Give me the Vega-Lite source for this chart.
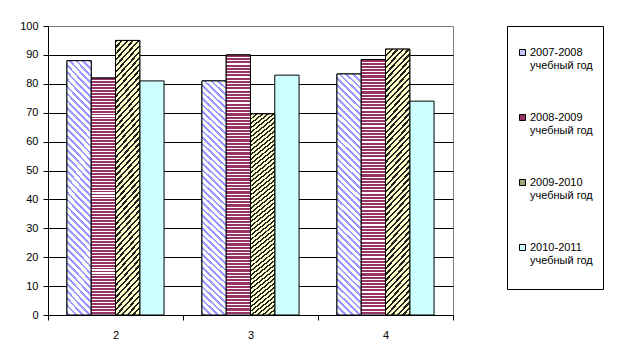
{
  "$schema": "https://vega.github.io/schema/vega-lite/v6.json",
  "width": 405,
  "height": 289,
  "autosize": {"type": "none"},
  "padding": {"left": 48, "top": 26, "right": 168, "bottom": 45},
  "background": "white",
  "config": {"view": {"stroke": "#808080", "strokeWidth": 1}, "font": "Liberation Sans"},
  "data": {"values": [
    {"grade": "2", "series": "2007-2008 учебный год", "value": 88},
    {"grade": "2", "series": "2008-2009 учебный год", "value": 82},
    {"grade": "2", "series": "2009-2010 учебный год", "value": 95},
    {"grade": "2", "series": "2010-2011 учебный год", "value": 81},
    {"grade": "3", "series": "2007-2008 учебный год", "value": 81},
    {"grade": "3", "series": "2008-2009 учебный год", "value": 90},
    {"grade": "3", "series": "2009-2010 учебный год", "value": 69.6},
    {"grade": "3", "series": "2010-2011 учебный год", "value": 83},
    {"grade": "4", "series": "2007-2008 учебный год", "value": 83.4},
    {"grade": "4", "series": "2008-2009 учебный год", "value": 88.4},
    {"grade": "4", "series": "2009-2010 учебный год", "value": 92},
    {"grade": "4", "series": "2010-2011 учебный год", "value": 74}
  ]},
  "encoding": {
    "x": {"field": "grade", "type": "nominal",
      "scale": {"paddingInner": 0, "paddingOuter": 0},
      "axis": {"title": null, "labelAngle": 0, "tickBand": "extent", "tickSize": 5, "tickColor": "black", "domainColor": "black", "labelColor": "black", "labelFontSize": 11, "labelPadding": 9, "labelFont": "Liberation Sans", "grid": false}},
    "xOffset": {"field": "series", "type": "nominal",
      "scale": {"domain": ["2007-2008 учебный год", "2008-2009 учебный год", "2009-2010 учебный год", "2010-2011 учебный год"], "paddingInner": 0, "paddingOuter": 0.78}},
    "y": {"field": "value", "type": "quantitative",
      "scale": {"domain": [0, 100], "nice": false},
      "axis": {"title": null, "values": [0, 10, 20, 30, 40, 50, 60, 70, 80, 90, 100], "grid": true,
        "gridColor": {"condition": {"test": "datum.value === 100", "value": "#808080"}, "value": "black"},
        "domainColor": "black", "tickColor": "black", "tickSize": 5, "labelColor": "black", "labelFontSize": 11, "labelPadding": 5, "labelFont": "Liberation Sans"}}
  },
  "layer": [
    {
      "mark": {"type": "bar", "stroke": "black", "strokeWidth": 1},
      "encoding": {
        "color": {"field": "series", "type": "nominal",
          "scale": {
            "domain": ["2007-2008 учебный год", "2008-2009 учебный год", "2009-2010 учебный год", "2010-2011 учебный год"],
            "range": ["#c4c4ff", "#993366", "#a6a67a", "#ccffff"]
          },
          "legend": {"title": " ", "titleFontSize": 4, "titlePadding": 7, "orient": "right", "offset": 54, "padding": 10, "strokeColor": "black", "rowPadding": 27,
            "symbolType": "square", "symbolSize": 36, "symbolStrokeColor": "black", "symbolStrokeWidth": 1, "symbolOpacity": 1,
            "labelFont": "Liberation Sans", "labelFontSize": 11, "labelColor": "black", "labelOffset": 2,
            "labelExpr": "[slice(datum.label, 0, 9), slice(datum.label, 10), '']"}
        }
      }
    },
    {
      "transform": [{"filter": "datum.series === '2007-2008 учебный год'"}],
      "mark": {"type": "bar", "stroke": "black", "strokeWidth": 1,
        "fill": {"gradient": "linear", "x1": 1, "y1": 0, "x2": 0.891, "y2": 1.1, "stops": [
            {"offset":0,"color":"#99f"},{"offset":0.01,"color":"#99f"},{"offset":0.01,"color":"#fff"},{"offset":0.025,"color":"#fff"},
            {"offset":0.025,"color":"#99f"},{"offset":0.035,"color":"#99f"},{"offset":0.035,"color":"#fff"},{"offset":0.05,"color":"#fff"},
            {"offset":0.05,"color":"#99f"},{"offset":0.06,"color":"#99f"},{"offset":0.06,"color":"#fff"},{"offset":0.075,"color":"#fff"},
            {"offset":0.075,"color":"#99f"},{"offset":0.085,"color":"#99f"},{"offset":0.085,"color":"#fff"},{"offset":0.1,"color":"#fff"},
            {"offset":0.1,"color":"#99f"},{"offset":0.11,"color":"#99f"},{"offset":0.11,"color":"#fff"},{"offset":0.125,"color":"#fff"},
            {"offset":0.125,"color":"#99f"},{"offset":0.135,"color":"#99f"},{"offset":0.135,"color":"#fff"},{"offset":0.15,"color":"#fff"},
            {"offset":0.15,"color":"#99f"},{"offset":0.16,"color":"#99f"},{"offset":0.16,"color":"#fff"},{"offset":0.175,"color":"#fff"},
            {"offset":0.175,"color":"#99f"},{"offset":0.185,"color":"#99f"},{"offset":0.185,"color":"#fff"},{"offset":0.2,"color":"#fff"},
            {"offset":0.2,"color":"#99f"},{"offset":0.21,"color":"#99f"},{"offset":0.21,"color":"#fff"},{"offset":0.225,"color":"#fff"},
            {"offset":0.225,"color":"#99f"},{"offset":0.235,"color":"#99f"},{"offset":0.235,"color":"#fff"},{"offset":0.25,"color":"#fff"},
            {"offset":0.25,"color":"#99f"},{"offset":0.26,"color":"#99f"},{"offset":0.26,"color":"#fff"},{"offset":0.275,"color":"#fff"},
            {"offset":0.275,"color":"#99f"},{"offset":0.285,"color":"#99f"},{"offset":0.285,"color":"#fff"},{"offset":0.3,"color":"#fff"},
            {"offset":0.3,"color":"#99f"},{"offset":0.31,"color":"#99f"},{"offset":0.31,"color":"#fff"},{"offset":0.325,"color":"#fff"},
            {"offset":0.325,"color":"#99f"},{"offset":0.335,"color":"#99f"},{"offset":0.335,"color":"#fff"},{"offset":0.35,"color":"#fff"},
            {"offset":0.35,"color":"#99f"},{"offset":0.36,"color":"#99f"},{"offset":0.36,"color":"#fff"},{"offset":0.375,"color":"#fff"},
            {"offset":0.375,"color":"#99f"},{"offset":0.385,"color":"#99f"},{"offset":0.385,"color":"#fff"},{"offset":0.4,"color":"#fff"},
            {"offset":0.4,"color":"#99f"},{"offset":0.41,"color":"#99f"},{"offset":0.41,"color":"#fff"},{"offset":0.425,"color":"#fff"},
            {"offset":0.425,"color":"#99f"},{"offset":0.435,"color":"#99f"},{"offset":0.435,"color":"#fff"},{"offset":0.45,"color":"#fff"},
            {"offset":0.45,"color":"#99f"},{"offset":0.46,"color":"#99f"},{"offset":0.46,"color":"#fff"},{"offset":0.475,"color":"#fff"},
            {"offset":0.475,"color":"#99f"},{"offset":0.485,"color":"#99f"},{"offset":0.485,"color":"#fff"},{"offset":0.5,"color":"#fff"},
            {"offset":0.5,"color":"#99f"},{"offset":0.51,"color":"#99f"},{"offset":0.51,"color":"#fff"},{"offset":0.525,"color":"#fff"},
            {"offset":0.525,"color":"#99f"},{"offset":0.535,"color":"#99f"},{"offset":0.535,"color":"#fff"},{"offset":0.55,"color":"#fff"},
            {"offset":0.55,"color":"#99f"},{"offset":0.56,"color":"#99f"},{"offset":0.56,"color":"#fff"},{"offset":0.575,"color":"#fff"},
            {"offset":0.575,"color":"#99f"},{"offset":0.585,"color":"#99f"},{"offset":0.585,"color":"#fff"},{"offset":0.6,"color":"#fff"},
            {"offset":0.6,"color":"#99f"},{"offset":0.61,"color":"#99f"},{"offset":0.61,"color":"#fff"},{"offset":0.625,"color":"#fff"},
            {"offset":0.625,"color":"#99f"},{"offset":0.635,"color":"#99f"},{"offset":0.635,"color":"#fff"},{"offset":0.65,"color":"#fff"},
            {"offset":0.65,"color":"#99f"},{"offset":0.66,"color":"#99f"},{"offset":0.66,"color":"#fff"},{"offset":0.675,"color":"#fff"},
            {"offset":0.675,"color":"#99f"},{"offset":0.685,"color":"#99f"},{"offset":0.685,"color":"#fff"},{"offset":0.7,"color":"#fff"},
            {"offset":0.7,"color":"#99f"},{"offset":0.71,"color":"#99f"},{"offset":0.71,"color":"#fff"},{"offset":0.725,"color":"#fff"},
            {"offset":0.725,"color":"#99f"},{"offset":0.735,"color":"#99f"},{"offset":0.735,"color":"#fff"},{"offset":0.75,"color":"#fff"},
            {"offset":0.75,"color":"#99f"},{"offset":0.76,"color":"#99f"},{"offset":0.76,"color":"#fff"},{"offset":0.775,"color":"#fff"},
            {"offset":0.775,"color":"#99f"},{"offset":0.785,"color":"#99f"},{"offset":0.785,"color":"#fff"},{"offset":0.8,"color":"#fff"},
            {"offset":0.8,"color":"#99f"},{"offset":0.81,"color":"#99f"},{"offset":0.81,"color":"#fff"},{"offset":0.825,"color":"#fff"},
            {"offset":0.825,"color":"#99f"},{"offset":0.835,"color":"#99f"},{"offset":0.835,"color":"#fff"},{"offset":0.85,"color":"#fff"},
            {"offset":0.85,"color":"#99f"},{"offset":0.86,"color":"#99f"},{"offset":0.86,"color":"#fff"},{"offset":0.875,"color":"#fff"},
            {"offset":0.875,"color":"#99f"},{"offset":0.885,"color":"#99f"},{"offset":0.885,"color":"#fff"},{"offset":0.9,"color":"#fff"},
            {"offset":0.9,"color":"#99f"},{"offset":0.91,"color":"#99f"},{"offset":0.91,"color":"#fff"},{"offset":0.925,"color":"#fff"},
            {"offset":0.925,"color":"#99f"},{"offset":0.935,"color":"#99f"},{"offset":0.935,"color":"#fff"},{"offset":0.95,"color":"#fff"},
            {"offset":0.95,"color":"#99f"},{"offset":0.96,"color":"#99f"},{"offset":0.96,"color":"#fff"},{"offset":0.975,"color":"#fff"},
            {"offset":0.975,"color":"#99f"},{"offset":0.985,"color":"#99f"},{"offset":0.985,"color":"#fff"},{"offset":1,"color":"#fff"}
          ]}
      }
    },
    {
      "transform": [{"filter": "datum.series === '2008-2009 учебный год'"}],
      "mark": {"type": "bar", "stroke": "black", "strokeWidth": 1,
        "fill": {"gradient": "linear", "x1": 0, "y1": 0, "x2": 0, "y2": 1, "stops": [
            {"offset":0,"color":"#936"},{"offset":0.008,"color":"#936"},{"offset":0.008,"color":"#fff"},{"offset":0.0125,"color":"#fff"},
            {"offset":0.0125,"color":"#936"},{"offset":0.0205,"color":"#936"},{"offset":0.0205,"color":"#fff"},{"offset":0.025,"color":"#fff"},
            {"offset":0.025,"color":"#936"},{"offset":0.033,"color":"#936"},{"offset":0.033,"color":"#fff"},{"offset":0.0375,"color":"#fff"},
            {"offset":0.0375,"color":"#936"},{"offset":0.0455,"color":"#936"},{"offset":0.0455,"color":"#fff"},{"offset":0.05,"color":"#fff"},
            {"offset":0.05,"color":"#936"},{"offset":0.058,"color":"#936"},{"offset":0.058,"color":"#fff"},{"offset":0.0625,"color":"#fff"},
            {"offset":0.0625,"color":"#936"},{"offset":0.0705,"color":"#936"},{"offset":0.0705,"color":"#fff"},{"offset":0.075,"color":"#fff"},
            {"offset":0.075,"color":"#936"},{"offset":0.083,"color":"#936"},{"offset":0.083,"color":"#fff"},{"offset":0.0875,"color":"#fff"},
            {"offset":0.0875,"color":"#936"},{"offset":0.0955,"color":"#936"},{"offset":0.0955,"color":"#fff"},{"offset":0.1,"color":"#fff"},
            {"offset":0.1,"color":"#936"},{"offset":0.108,"color":"#936"},{"offset":0.108,"color":"#fff"},{"offset":0.1125,"color":"#fff"},
            {"offset":0.1125,"color":"#936"},{"offset":0.1205,"color":"#936"},{"offset":0.1205,"color":"#fff"},{"offset":0.125,"color":"#fff"},
            {"offset":0.125,"color":"#936"},{"offset":0.133,"color":"#936"},{"offset":0.133,"color":"#fff"},{"offset":0.1375,"color":"#fff"},
            {"offset":0.1375,"color":"#936"},{"offset":0.1455,"color":"#936"},{"offset":0.1455,"color":"#fff"},{"offset":0.15,"color":"#fff"},
            {"offset":0.15,"color":"#936"},{"offset":0.158,"color":"#936"},{"offset":0.158,"color":"#fff"},{"offset":0.1625,"color":"#fff"},
            {"offset":0.1625,"color":"#936"},{"offset":0.1705,"color":"#936"},{"offset":0.1705,"color":"#fff"},{"offset":0.175,"color":"#fff"},
            {"offset":0.175,"color":"#936"},{"offset":0.183,"color":"#936"},{"offset":0.183,"color":"#fff"},{"offset":0.1875,"color":"#fff"},
            {"offset":0.1875,"color":"#936"},{"offset":0.1955,"color":"#936"},{"offset":0.1955,"color":"#fff"},{"offset":0.2,"color":"#fff"},
            {"offset":0.2,"color":"#936"},{"offset":0.208,"color":"#936"},{"offset":0.208,"color":"#fff"},{"offset":0.2125,"color":"#fff"},
            {"offset":0.2125,"color":"#936"},{"offset":0.2205,"color":"#936"},{"offset":0.2205,"color":"#fff"},{"offset":0.225,"color":"#fff"},
            {"offset":0.225,"color":"#936"},{"offset":0.233,"color":"#936"},{"offset":0.233,"color":"#fff"},{"offset":0.2375,"color":"#fff"},
            {"offset":0.2375,"color":"#936"},{"offset":0.2455,"color":"#936"},{"offset":0.2455,"color":"#fff"},{"offset":0.25,"color":"#fff"},
            {"offset":0.25,"color":"#936"},{"offset":0.258,"color":"#936"},{"offset":0.258,"color":"#fff"},{"offset":0.2625,"color":"#fff"},
            {"offset":0.2625,"color":"#936"},{"offset":0.2705,"color":"#936"},{"offset":0.2705,"color":"#fff"},{"offset":0.275,"color":"#fff"},
            {"offset":0.275,"color":"#936"},{"offset":0.283,"color":"#936"},{"offset":0.283,"color":"#fff"},{"offset":0.2875,"color":"#fff"},
            {"offset":0.2875,"color":"#936"},{"offset":0.2955,"color":"#936"},{"offset":0.2955,"color":"#fff"},{"offset":0.3,"color":"#fff"},
            {"offset":0.3,"color":"#936"},{"offset":0.308,"color":"#936"},{"offset":0.308,"color":"#fff"},{"offset":0.3125,"color":"#fff"},
            {"offset":0.3125,"color":"#936"},{"offset":0.3205,"color":"#936"},{"offset":0.3205,"color":"#fff"},{"offset":0.325,"color":"#fff"},
            {"offset":0.325,"color":"#936"},{"offset":0.333,"color":"#936"},{"offset":0.333,"color":"#fff"},{"offset":0.3375,"color":"#fff"},
            {"offset":0.3375,"color":"#936"},{"offset":0.3455,"color":"#936"},{"offset":0.3455,"color":"#fff"},{"offset":0.35,"color":"#fff"},
            {"offset":0.35,"color":"#936"},{"offset":0.358,"color":"#936"},{"offset":0.358,"color":"#fff"},{"offset":0.3625,"color":"#fff"},
            {"offset":0.3625,"color":"#936"},{"offset":0.3705,"color":"#936"},{"offset":0.3705,"color":"#fff"},{"offset":0.375,"color":"#fff"},
            {"offset":0.375,"color":"#936"},{"offset":0.383,"color":"#936"},{"offset":0.383,"color":"#fff"},{"offset":0.3875,"color":"#fff"},
            {"offset":0.3875,"color":"#936"},{"offset":0.3955,"color":"#936"},{"offset":0.3955,"color":"#fff"},{"offset":0.4,"color":"#fff"},
            {"offset":0.4,"color":"#936"},{"offset":0.408,"color":"#936"},{"offset":0.408,"color":"#fff"},{"offset":0.4125,"color":"#fff"},
            {"offset":0.4125,"color":"#936"},{"offset":0.4205,"color":"#936"},{"offset":0.4205,"color":"#fff"},{"offset":0.425,"color":"#fff"},
            {"offset":0.425,"color":"#936"},{"offset":0.433,"color":"#936"},{"offset":0.433,"color":"#fff"},{"offset":0.4375,"color":"#fff"},
            {"offset":0.4375,"color":"#936"},{"offset":0.4455,"color":"#936"},{"offset":0.4455,"color":"#fff"},{"offset":0.45,"color":"#fff"},
            {"offset":0.45,"color":"#936"},{"offset":0.458,"color":"#936"},{"offset":0.458,"color":"#fff"},{"offset":0.4625,"color":"#fff"},
            {"offset":0.4625,"color":"#936"},{"offset":0.4705,"color":"#936"},{"offset":0.4705,"color":"#fff"},{"offset":0.475,"color":"#fff"},
            {"offset":0.475,"color":"#936"},{"offset":0.483,"color":"#936"},{"offset":0.483,"color":"#fff"},{"offset":0.4875,"color":"#fff"},
            {"offset":0.4875,"color":"#936"},{"offset":0.4955,"color":"#936"},{"offset":0.4955,"color":"#fff"},{"offset":0.5,"color":"#fff"},
            {"offset":0.5,"color":"#936"},{"offset":0.508,"color":"#936"},{"offset":0.508,"color":"#fff"},{"offset":0.5125,"color":"#fff"},
            {"offset":0.5125,"color":"#936"},{"offset":0.5205,"color":"#936"},{"offset":0.5205,"color":"#fff"},{"offset":0.525,"color":"#fff"},
            {"offset":0.525,"color":"#936"},{"offset":0.533,"color":"#936"},{"offset":0.533,"color":"#fff"},{"offset":0.5375,"color":"#fff"},
            {"offset":0.5375,"color":"#936"},{"offset":0.5455,"color":"#936"},{"offset":0.5455,"color":"#fff"},{"offset":0.55,"color":"#fff"},
            {"offset":0.55,"color":"#936"},{"offset":0.558,"color":"#936"},{"offset":0.558,"color":"#fff"},{"offset":0.5625,"color":"#fff"},
            {"offset":0.5625,"color":"#936"},{"offset":0.5705,"color":"#936"},{"offset":0.5705,"color":"#fff"},{"offset":0.575,"color":"#fff"},
            {"offset":0.575,"color":"#936"},{"offset":0.583,"color":"#936"},{"offset":0.583,"color":"#fff"},{"offset":0.5875,"color":"#fff"},
            {"offset":0.5875,"color":"#936"},{"offset":0.5955,"color":"#936"},{"offset":0.5955,"color":"#fff"},{"offset":0.6,"color":"#fff"},
            {"offset":0.6,"color":"#936"},{"offset":0.608,"color":"#936"},{"offset":0.608,"color":"#fff"},{"offset":0.6125,"color":"#fff"},
            {"offset":0.6125,"color":"#936"},{"offset":0.6205,"color":"#936"},{"offset":0.6205,"color":"#fff"},{"offset":0.625,"color":"#fff"},
            {"offset":0.625,"color":"#936"},{"offset":0.633,"color":"#936"},{"offset":0.633,"color":"#fff"},{"offset":0.6375,"color":"#fff"},
            {"offset":0.6375,"color":"#936"},{"offset":0.6455,"color":"#936"},{"offset":0.6455,"color":"#fff"},{"offset":0.65,"color":"#fff"},
            {"offset":0.65,"color":"#936"},{"offset":0.658,"color":"#936"},{"offset":0.658,"color":"#fff"},{"offset":0.6625,"color":"#fff"},
            {"offset":0.6625,"color":"#936"},{"offset":0.6705,"color":"#936"},{"offset":0.6705,"color":"#fff"},{"offset":0.675,"color":"#fff"},
            {"offset":0.675,"color":"#936"},{"offset":0.683,"color":"#936"},{"offset":0.683,"color":"#fff"},{"offset":0.6875,"color":"#fff"},
            {"offset":0.6875,"color":"#936"},{"offset":0.6955,"color":"#936"},{"offset":0.6955,"color":"#fff"},{"offset":0.7,"color":"#fff"},
            {"offset":0.7,"color":"#936"},{"offset":0.708,"color":"#936"},{"offset":0.708,"color":"#fff"},{"offset":0.7125,"color":"#fff"},
            {"offset":0.7125,"color":"#936"},{"offset":0.7205,"color":"#936"},{"offset":0.7205,"color":"#fff"},{"offset":0.725,"color":"#fff"},
            {"offset":0.725,"color":"#936"},{"offset":0.733,"color":"#936"},{"offset":0.733,"color":"#fff"},{"offset":0.7375,"color":"#fff"},
            {"offset":0.7375,"color":"#936"},{"offset":0.7455,"color":"#936"},{"offset":0.7455,"color":"#fff"},{"offset":0.75,"color":"#fff"},
            {"offset":0.75,"color":"#936"},{"offset":0.758,"color":"#936"},{"offset":0.758,"color":"#fff"},{"offset":0.7625,"color":"#fff"},
            {"offset":0.7625,"color":"#936"},{"offset":0.7705,"color":"#936"},{"offset":0.7705,"color":"#fff"},{"offset":0.775,"color":"#fff"},
            {"offset":0.775,"color":"#936"},{"offset":0.783,"color":"#936"},{"offset":0.783,"color":"#fff"},{"offset":0.7875,"color":"#fff"},
            {"offset":0.7875,"color":"#936"},{"offset":0.7955,"color":"#936"},{"offset":0.7955,"color":"#fff"},{"offset":0.8,"color":"#fff"},
            {"offset":0.8,"color":"#936"},{"offset":0.808,"color":"#936"},{"offset":0.808,"color":"#fff"},{"offset":0.8125,"color":"#fff"},
            {"offset":0.8125,"color":"#936"},{"offset":0.8205,"color":"#936"},{"offset":0.8205,"color":"#fff"},{"offset":0.825,"color":"#fff"},
            {"offset":0.825,"color":"#936"},{"offset":0.833,"color":"#936"},{"offset":0.833,"color":"#fff"},{"offset":0.8375,"color":"#fff"},
            {"offset":0.8375,"color":"#936"},{"offset":0.8455,"color":"#936"},{"offset":0.8455,"color":"#fff"},{"offset":0.85,"color":"#fff"},
            {"offset":0.85,"color":"#936"},{"offset":0.858,"color":"#936"},{"offset":0.858,"color":"#fff"},{"offset":0.8625,"color":"#fff"},
            {"offset":0.8625,"color":"#936"},{"offset":0.8705,"color":"#936"},{"offset":0.8705,"color":"#fff"},{"offset":0.875,"color":"#fff"},
            {"offset":0.875,"color":"#936"},{"offset":0.883,"color":"#936"},{"offset":0.883,"color":"#fff"},{"offset":0.8875,"color":"#fff"},
            {"offset":0.8875,"color":"#936"},{"offset":0.8955,"color":"#936"},{"offset":0.8955,"color":"#fff"},{"offset":0.9,"color":"#fff"},
            {"offset":0.9,"color":"#936"},{"offset":0.908,"color":"#936"},{"offset":0.908,"color":"#fff"},{"offset":0.9125,"color":"#fff"},
            {"offset":0.9125,"color":"#936"},{"offset":0.9205,"color":"#936"},{"offset":0.9205,"color":"#fff"},{"offset":0.925,"color":"#fff"},
            {"offset":0.925,"color":"#936"},{"offset":0.933,"color":"#936"},{"offset":0.933,"color":"#fff"},{"offset":0.9375,"color":"#fff"},
            {"offset":0.9375,"color":"#936"},{"offset":0.9455,"color":"#936"},{"offset":0.9455,"color":"#fff"},{"offset":0.95,"color":"#fff"},
            {"offset":0.95,"color":"#936"},{"offset":0.958,"color":"#936"},{"offset":0.958,"color":"#fff"},{"offset":0.9625,"color":"#fff"},
            {"offset":0.9625,"color":"#936"},{"offset":0.9705,"color":"#936"},{"offset":0.9705,"color":"#fff"},{"offset":0.975,"color":"#fff"},
            {"offset":0.975,"color":"#936"},{"offset":0.983,"color":"#936"},{"offset":0.983,"color":"#fff"},{"offset":0.9875,"color":"#fff"},
            {"offset":0.9875,"color":"#936"},{"offset":0.9955,"color":"#936"},{"offset":0.9955,"color":"#fff"},{"offset":1,"color":"#fff"}
          ]}
      }
    },
    {
      "transform": [{"filter": "datum.series === '2009-2010 учебный год'"}],
      "mark": {"type": "bar", "stroke": "black", "strokeWidth": 1,
        "fill": {"gradient": "linear", "x1": 0, "y1": 0, "x2": 0.107, "y2": 1.1, "stops": [
            {"offset":0,"color":"#222"},{"offset":0.008,"color":"#222"},{"offset":0.008,"color":"#ffc"},{"offset":0.02,"color":"#ffc"},
            {"offset":0.02,"color":"#222"},{"offset":0.028,"color":"#222"},{"offset":0.028,"color":"#ffc"},{"offset":0.04,"color":"#ffc"},
            {"offset":0.04,"color":"#222"},{"offset":0.048,"color":"#222"},{"offset":0.048,"color":"#ffc"},{"offset":0.06,"color":"#ffc"},
            {"offset":0.06,"color":"#222"},{"offset":0.068,"color":"#222"},{"offset":0.068,"color":"#ffc"},{"offset":0.08,"color":"#ffc"},
            {"offset":0.08,"color":"#222"},{"offset":0.088,"color":"#222"},{"offset":0.088,"color":"#ffc"},{"offset":0.1,"color":"#ffc"},
            {"offset":0.1,"color":"#222"},{"offset":0.108,"color":"#222"},{"offset":0.108,"color":"#ffc"},{"offset":0.12,"color":"#ffc"},
            {"offset":0.12,"color":"#222"},{"offset":0.128,"color":"#222"},{"offset":0.128,"color":"#ffc"},{"offset":0.14,"color":"#ffc"},
            {"offset":0.14,"color":"#222"},{"offset":0.148,"color":"#222"},{"offset":0.148,"color":"#ffc"},{"offset":0.16,"color":"#ffc"},
            {"offset":0.16,"color":"#222"},{"offset":0.168,"color":"#222"},{"offset":0.168,"color":"#ffc"},{"offset":0.18,"color":"#ffc"},
            {"offset":0.18,"color":"#222"},{"offset":0.188,"color":"#222"},{"offset":0.188,"color":"#ffc"},{"offset":0.2,"color":"#ffc"},
            {"offset":0.2,"color":"#222"},{"offset":0.208,"color":"#222"},{"offset":0.208,"color":"#ffc"},{"offset":0.22,"color":"#ffc"},
            {"offset":0.22,"color":"#222"},{"offset":0.228,"color":"#222"},{"offset":0.228,"color":"#ffc"},{"offset":0.24,"color":"#ffc"},
            {"offset":0.24,"color":"#222"},{"offset":0.248,"color":"#222"},{"offset":0.248,"color":"#ffc"},{"offset":0.26,"color":"#ffc"},
            {"offset":0.26,"color":"#222"},{"offset":0.268,"color":"#222"},{"offset":0.268,"color":"#ffc"},{"offset":0.28,"color":"#ffc"},
            {"offset":0.28,"color":"#222"},{"offset":0.288,"color":"#222"},{"offset":0.288,"color":"#ffc"},{"offset":0.3,"color":"#ffc"},
            {"offset":0.3,"color":"#222"},{"offset":0.308,"color":"#222"},{"offset":0.308,"color":"#ffc"},{"offset":0.32,"color":"#ffc"},
            {"offset":0.32,"color":"#222"},{"offset":0.328,"color":"#222"},{"offset":0.328,"color":"#ffc"},{"offset":0.34,"color":"#ffc"},
            {"offset":0.34,"color":"#222"},{"offset":0.348,"color":"#222"},{"offset":0.348,"color":"#ffc"},{"offset":0.36,"color":"#ffc"},
            {"offset":0.36,"color":"#222"},{"offset":0.368,"color":"#222"},{"offset":0.368,"color":"#ffc"},{"offset":0.38,"color":"#ffc"},
            {"offset":0.38,"color":"#222"},{"offset":0.388,"color":"#222"},{"offset":0.388,"color":"#ffc"},{"offset":0.4,"color":"#ffc"},
            {"offset":0.4,"color":"#222"},{"offset":0.408,"color":"#222"},{"offset":0.408,"color":"#ffc"},{"offset":0.42,"color":"#ffc"},
            {"offset":0.42,"color":"#222"},{"offset":0.428,"color":"#222"},{"offset":0.428,"color":"#ffc"},{"offset":0.44,"color":"#ffc"},
            {"offset":0.44,"color":"#222"},{"offset":0.448,"color":"#222"},{"offset":0.448,"color":"#ffc"},{"offset":0.46,"color":"#ffc"},
            {"offset":0.46,"color":"#222"},{"offset":0.468,"color":"#222"},{"offset":0.468,"color":"#ffc"},{"offset":0.48,"color":"#ffc"},
            {"offset":0.48,"color":"#222"},{"offset":0.488,"color":"#222"},{"offset":0.488,"color":"#ffc"},{"offset":0.5,"color":"#ffc"},
            {"offset":0.5,"color":"#222"},{"offset":0.508,"color":"#222"},{"offset":0.508,"color":"#ffc"},{"offset":0.52,"color":"#ffc"},
            {"offset":0.52,"color":"#222"},{"offset":0.528,"color":"#222"},{"offset":0.528,"color":"#ffc"},{"offset":0.54,"color":"#ffc"},
            {"offset":0.54,"color":"#222"},{"offset":0.548,"color":"#222"},{"offset":0.548,"color":"#ffc"},{"offset":0.56,"color":"#ffc"},
            {"offset":0.56,"color":"#222"},{"offset":0.568,"color":"#222"},{"offset":0.568,"color":"#ffc"},{"offset":0.58,"color":"#ffc"},
            {"offset":0.58,"color":"#222"},{"offset":0.588,"color":"#222"},{"offset":0.588,"color":"#ffc"},{"offset":0.6,"color":"#ffc"},
            {"offset":0.6,"color":"#222"},{"offset":0.608,"color":"#222"},{"offset":0.608,"color":"#ffc"},{"offset":0.62,"color":"#ffc"},
            {"offset":0.62,"color":"#222"},{"offset":0.628,"color":"#222"},{"offset":0.628,"color":"#ffc"},{"offset":0.64,"color":"#ffc"},
            {"offset":0.64,"color":"#222"},{"offset":0.648,"color":"#222"},{"offset":0.648,"color":"#ffc"},{"offset":0.66,"color":"#ffc"},
            {"offset":0.66,"color":"#222"},{"offset":0.668,"color":"#222"},{"offset":0.668,"color":"#ffc"},{"offset":0.68,"color":"#ffc"},
            {"offset":0.68,"color":"#222"},{"offset":0.688,"color":"#222"},{"offset":0.688,"color":"#ffc"},{"offset":0.7,"color":"#ffc"},
            {"offset":0.7,"color":"#222"},{"offset":0.708,"color":"#222"},{"offset":0.708,"color":"#ffc"},{"offset":0.72,"color":"#ffc"},
            {"offset":0.72,"color":"#222"},{"offset":0.728,"color":"#222"},{"offset":0.728,"color":"#ffc"},{"offset":0.74,"color":"#ffc"},
            {"offset":0.74,"color":"#222"},{"offset":0.748,"color":"#222"},{"offset":0.748,"color":"#ffc"},{"offset":0.76,"color":"#ffc"},
            {"offset":0.76,"color":"#222"},{"offset":0.768,"color":"#222"},{"offset":0.768,"color":"#ffc"},{"offset":0.78,"color":"#ffc"},
            {"offset":0.78,"color":"#222"},{"offset":0.788,"color":"#222"},{"offset":0.788,"color":"#ffc"},{"offset":0.8,"color":"#ffc"},
            {"offset":0.8,"color":"#222"},{"offset":0.808,"color":"#222"},{"offset":0.808,"color":"#ffc"},{"offset":0.82,"color":"#ffc"},
            {"offset":0.82,"color":"#222"},{"offset":0.828,"color":"#222"},{"offset":0.828,"color":"#ffc"},{"offset":0.84,"color":"#ffc"},
            {"offset":0.84,"color":"#222"},{"offset":0.848,"color":"#222"},{"offset":0.848,"color":"#ffc"},{"offset":0.86,"color":"#ffc"},
            {"offset":0.86,"color":"#222"},{"offset":0.868,"color":"#222"},{"offset":0.868,"color":"#ffc"},{"offset":0.88,"color":"#ffc"},
            {"offset":0.88,"color":"#222"},{"offset":0.888,"color":"#222"},{"offset":0.888,"color":"#ffc"},{"offset":0.9,"color":"#ffc"},
            {"offset":0.9,"color":"#222"},{"offset":0.908,"color":"#222"},{"offset":0.908,"color":"#ffc"},{"offset":0.92,"color":"#ffc"},
            {"offset":0.92,"color":"#222"},{"offset":0.928,"color":"#222"},{"offset":0.928,"color":"#ffc"},{"offset":0.94,"color":"#ffc"},
            {"offset":0.94,"color":"#222"},{"offset":0.948,"color":"#222"},{"offset":0.948,"color":"#ffc"},{"offset":0.96,"color":"#ffc"},
            {"offset":0.96,"color":"#222"},{"offset":0.968,"color":"#222"},{"offset":0.968,"color":"#ffc"},{"offset":0.98,"color":"#ffc"},
            {"offset":0.98,"color":"#222"},{"offset":0.988,"color":"#222"},{"offset":0.988,"color":"#ffc"},{"offset":1,"color":"#ffc"}
          ]}
      }
    }
  ]
}
